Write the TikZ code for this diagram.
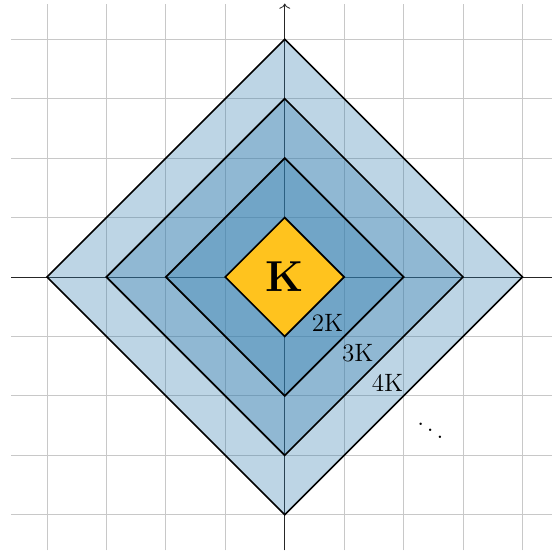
\documentclass[tikz,border=0pt]{standalone}
\usepackage{tikz}
\usetikzlibrary{arrows.meta,positioning}
\definecolor{ringblue}{RGB}{49,124,174}
\definecolor{core}{HTML}{FFC31E}
\definecolor{neutral}{HTML}{C8C8C8}

\begin{document}
\begin{tikzpicture}[
  gridline/.style={draw=neutral,line width=0.4pt},
  axis/.style={->,draw=black!85},
  ring/.style={draw=black,thick,fill=ringblue,fill opacity=0.32},
  kernel/.style={draw=black,thick,fill=core},
  lbl/.style={font=\large,inner sep=1pt}]

  \useasboundingbox (-4.79,-4.66) rectangle (4.49,4.66);
  \draw[gridline] (-4.6,-4.6) grid (4.6,4.6);

  \coordinate (xmin) at (-4.6,0);
  \coordinate (xmax) at (4.6,0);
  \coordinate (ymin) at (0,-4.6);
  \coordinate (ymax) at (0,4.6);
  \draw[axis] (xmin) -- (xmax);
  \draw[axis] (ymin) -- (ymax);

  % nested rings, outermost first
  \draw[ring] (4,0) -- (0,4) -- (-4,0) -- (0,-4) -- cycle;
  \draw[ring] (3,0) -- (0,3) -- (-3,0) -- (0,-3) -- cycle;
  \draw[ring] (2,0) -- (0,2) -- (-2,0) -- (0,-2) -- cycle;
  \draw[kernel] (1,0) -- (0,1) -- (-1,0) -- (0,-1) -- cycle;

  \node[font=\huge\bfseries] (k) at (0,0) {K};
  \node[lbl] (k2) at (0.72,-0.78) {2K};
  \node[lbl] (k3) at (1.23,-1.28) {3K};
  \node[lbl] (k4) at (1.73,-1.78) {4K};
  \node[font=\large] (more) at (2.45,-2.48) {$\ddots$};
\end{tikzpicture}
\end{document}
